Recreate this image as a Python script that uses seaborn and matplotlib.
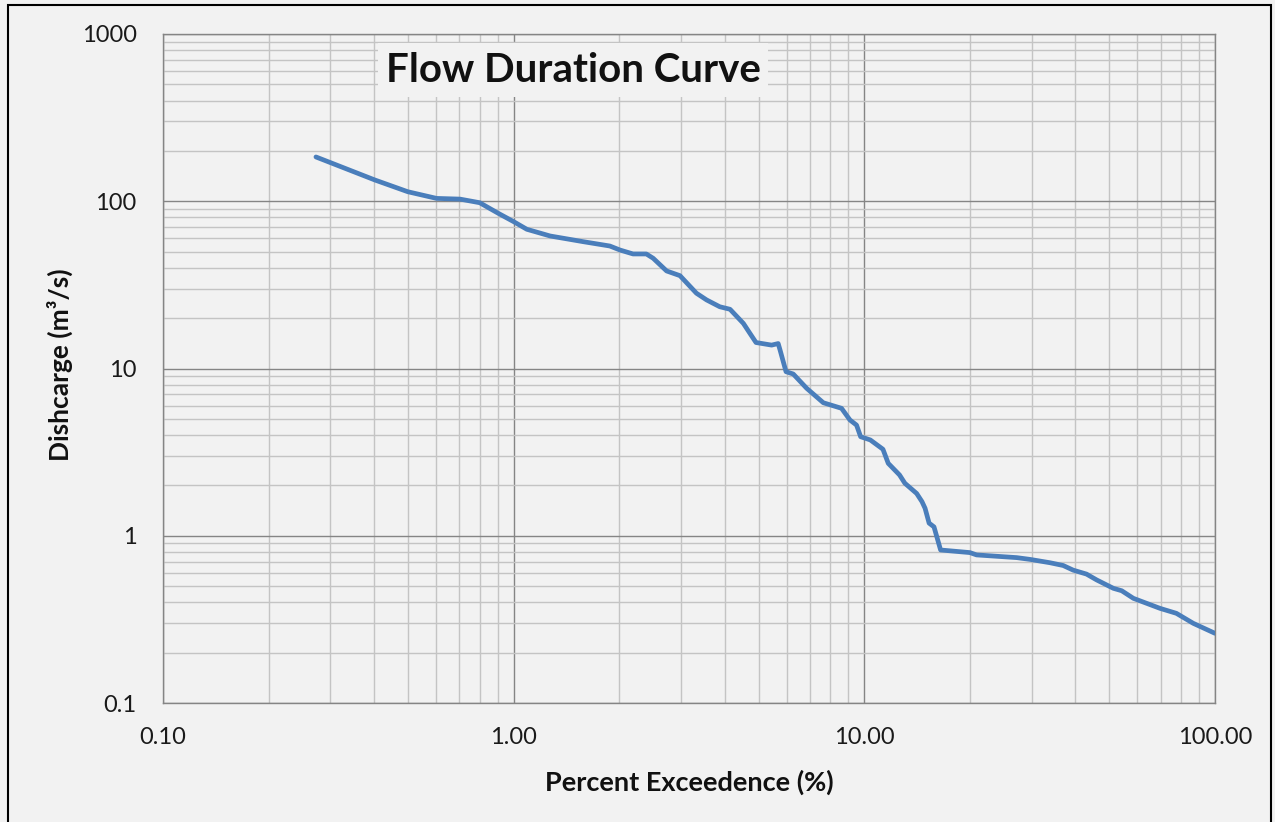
import matplotlib
matplotlib.use("Agg")
import matplotlib.pyplot as plt
import matplotlib.ticker as mticker
from matplotlib.patches import Rectangle
import numpy as np
import pandas as pd
import seaborn as sns

# Data
exceedence_pct = [0.273, 0.402, 0.499, 0.603, 0.703, 0.80, 0.904, 1.0, 1.09, 1.27,
                  1.58, 1.88, 2.01, 2.19, 2.39, 2.50, 2.73, 2.98, 3.32, 3.55,
                  3.87, 4.14, 4.52, 4.72, 4.91, 5.44, 5.68, 5.75, 5.98, 6.27,
                  6.85, 7.64, 8.61, 9.1, 9.5, 9.76, 10.4, 11.3, 11.7, 12.6,
                  13.05, 14.1, 14.6, 14.9, 15.3, 15.8, 16.5, 20.0, 20.9, 27.2,
                  29.7, 33.8, 36.9, 39.4, 43.0, 46.0, 51.3, 54.2, 58.5, 69.7,
                  77.6, 86.7, 100.0]
discharge = [184, 134, 114, 104, 103, 98, 84.7, 75.5, 68, 62,
             57.3, 54, 51.1, 48.4, 48.4, 45.6, 38.3, 35.9, 28.2, 25.7,
             23.4, 22.6, 18.6, 16.2, 14.3, 13.8, 14.1, 12.9, 9.57, 9.27,
             7.61, 6.24, 5.78, 4.92, 4.59, 3.91, 3.74, 3.29, 2.71, 2.31,
             2.06, 1.79, 1.60, 1.46, 1.19, 1.13, 0.822, 0.793, 0.768, 0.74,
             0.722, 0.69, 0.664, 0.623, 0.59, 0.544, 0.485, 0.469, 0.4226, 0.368,
             0.3437, 0.2995, 0.261]

x_ticks = [0.1, 1, 10, 100]
x_tick_labels = ["0.10", "1.00", "10.00", "100.00"]
y_ticks = [0.1, 1, 10, 100, 1000]
y_tick_labels = ["0.1", "1", "10", "100", "1000"]

title = "Flow Duration Curve"
x_label = "Percent Exceedence (%)"
y_label = "Dishcarge (m³/s)"

df = pd.DataFrame({"x": exceedence_pct, "y": discharge})

sns.set_theme(style="white")
plt.rcParams["font.family"] = ["Lato", "DejaVu Sans"]

bg = "#f2f2f2"
fig = plt.figure(figsize=(12.75, 8.22), dpi=100, facecolor=bg)
ax = fig.add_axes([163 / 1275, 1 - 703 / 822, 1052 / 1275, 669 / 822])
ax.set_facecolor(bg)

sns.lineplot(data=df, x="x", y="y", ax=ax, color="#4a7ebb", linewidth=3.4,
             estimator=None, sort=False, zorder=5)

ax.set_xscale("log")
ax.set_yscale("log")
ax.set_xlim(0.1, 100)
ax.set_ylim(0.1, 1000)

ax.xaxis.set_major_locator(mticker.FixedLocator(x_ticks))
ax.xaxis.set_major_formatter(mticker.FixedFormatter(x_tick_labels))
ax.yaxis.set_major_locator(mticker.FixedLocator(y_ticks))
ax.yaxis.set_major_formatter(mticker.FixedFormatter(y_tick_labels))
ax.xaxis.set_minor_locator(mticker.LogLocator(base=10, subs=np.arange(2, 10)))
ax.yaxis.set_minor_locator(mticker.LogLocator(base=10, subs=np.arange(2, 10)))
ax.xaxis.set_minor_formatter(mticker.NullFormatter())
ax.yaxis.set_minor_formatter(mticker.NullFormatter())

ax.grid(which="major", color="#858585", linewidth=1.0, zorder=1)
ax.grid(which="minor", color="#c4c4c4", linewidth=1.0, zorder=1)
ax.set_axisbelow(True)

ax.tick_params(axis="both", which="both", length=0)
ax.tick_params(axis="x", which="major", labelsize=17, pad=17, colors="#1a1a1a")
ax.tick_params(axis="y", which="major", labelsize=17, pad=19, colors="#1a1a1a")

for s in ax.spines.values():
    s.set_color("#858585")
    s.set_linewidth(1.0)

ax.set_xlabel(x_label, fontsize=19.5, fontweight="bold", color="#111111")
ax.set_ylabel(y_label, fontsize=19, fontweight="bold", color="#111111")
ax.xaxis.set_label_coords(0.5, -0.118)
ax.xaxis.label.set_va("center")
ax.yaxis.set_label_coords(-0.098, 0.505)
ax.yaxis.label.set_va("center")

ax.text((573 - 163) / 1052, (703 - 70) / 669, title, transform=ax.transAxes,
        ha="center", va="center", fontsize=29, fontweight="bold", color="#111111",
        zorder=10,
        bbox=dict(boxstyle="square,pad=0.2", facecolor=bg, edgecolor="none"))

fig.patches.append(Rectangle((8 / 1275, -0.05), (1271 - 8) / 1275, 1.05 - 5 / 822,
                             transform=fig.transFigure, fill=False,
                             edgecolor="black", linewidth=1.5))

fig.savefig("out.png", dpi=100, facecolor=bg)
